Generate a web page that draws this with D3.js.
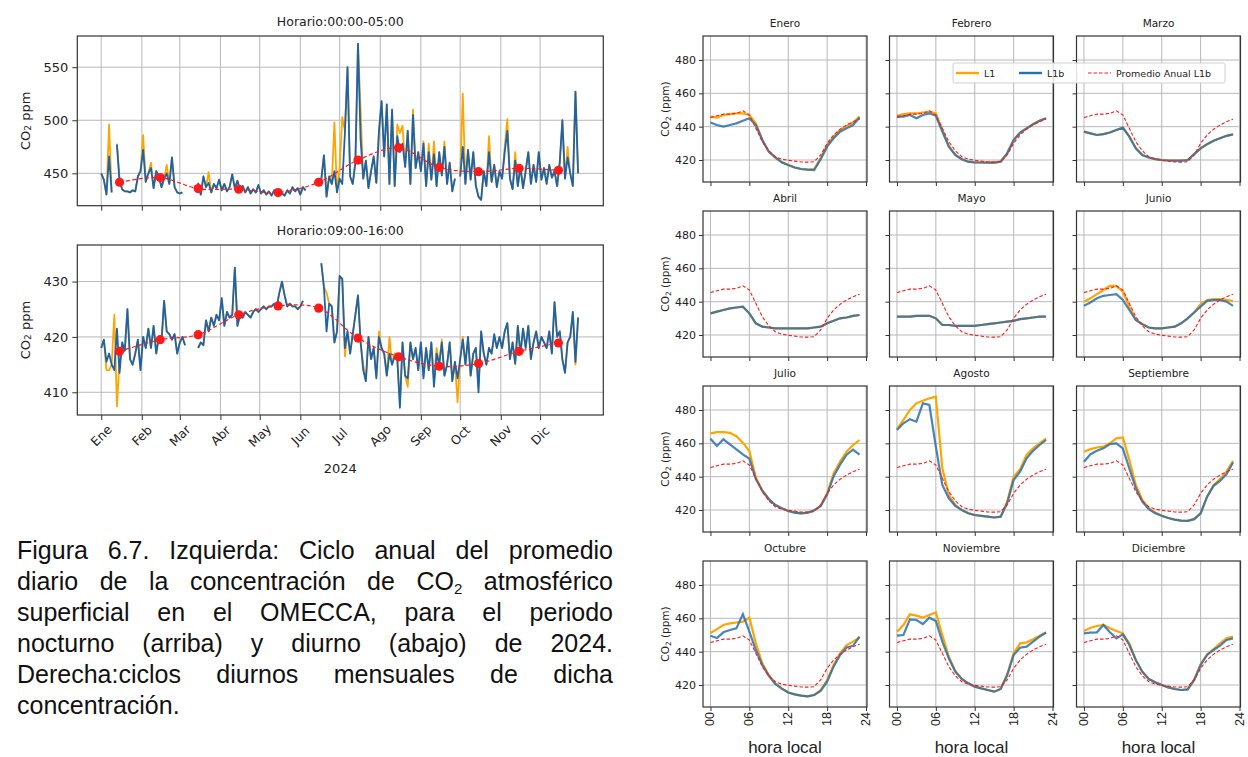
<!DOCTYPE html>
<html lang="es">
<head>
<meta charset="utf-8">
<title>CO2 atmosférico OMECCA 2024</title>
<script src="https://cdn.jsdelivr.net/npm/d3@7"></script>
<style>
  html, body { margin: 0; padding: 0; background: #fff; }
  body { position: relative; width: 1248px; height: 757px; overflow: hidden; }
  svg { display: block; }
  #caption {
    position: absolute; left: 17px; top: 535px; width: 596px;
    font-family: "Liberation Sans", Arial, sans-serif; font-size: 25px;
    line-height: 31px; color: #111;
  }
  #caption .ln { text-align: justify; text-align-last: justify; white-space: nowrap; }
  #caption .ln.last { text-align: left; text-align-last: left; }
  #caption sub { font-size: 0.6em; line-height: 0; vertical-align: -0.25em; }
</style>
</head>
<body>
<svg id="fig" width="1248" height="757"></svg>
<div id="caption">
  <div class="ln">Figura 6.7. Izquierda: Ciclo anual del promedio</div>
  <div class="ln">diario de la concentración de CO<sub>2</sub> atmosférico</div>
  <div class="ln">superficial en el OMECCA, para el periodo</div>
  <div class="ln">nocturno (arriba) y diurno (abajo) de 2024.</div>
  <div class="ln">Derecha:ciclos diurnos mensuales de dicha</div>
  <div class="ln last">concentración.</div>
</div>
<script>
// ---------- DATOS: promedio diario (un valor cada 2 días desde el 1 ene 2024) ----------
const monthLabels = ['Ene', 'Feb', 'Mar', 'Abr', 'May', 'Jun', 'Jul', 'Ago', 'Sep', 'Oct', 'Nov', 'Dic'];

// Horario 00:00-05:00
const nightL1b = [
  450, 444, 430, 466, 432, null, 477, 442, 435, 433, 433, 432, 434, 433, 447, 452,   // ene
  472, 442, 450, 455, 436, 452, 447, 437, 445, 450, 440, 465, 437, 432,             // feb
  431, 432, null, null, null, null, null, 441, 430, 447, 437, 441, 432, 440, 436, 444, // mar
  434, 440, 433, 437, 449, 436, 443, 434, 438, 432, 437, 431, 435, 432, 439,        // abr
  431, 434, 430, 433, 429, 434, 430, 433, 431, 429, 434, 431, 437, 433, 436,        // may
  430, 437, 434, null, null, null, null, null, 444, 467, 428, 447, 440, 452, 432,   // jun
  445, 440, 488, 550, 447, 440, 460, 572, 482, 445, 462, 436, 452, 466, 441, 489,   // jul
  518, 466, 515, 440, 510, 438, 485, 470, 478, 456, 490, 440, 505, 455, 470,        // ago
  452, 478, 438, 470, 444, 468, 438, 470, 448, 475, 440, 460, 433, 445, null,       // sep
  447, 475, 440, 472, 444, 470, 438, 428, 425, 452, 438, 470, 442, 458, 437, 452,   // oct
  445, 470, 490, 445, 435, 462, 438, 456, 436, 452, 470, 440, 458, 442, 470,        // nov
  444, 455, 440, 458, 446, 452, 438, 460, 500, 445, 465, 450, 438, 527, 450         // dic
];
const nightL1 = [
  450, 444, 430, 496, 432, null, 478, 446, 435, 433, 433, 432, 434, 433, 447, 452,
  486, 442, 450, 460, 436, 452, 447, 437, 445, 458, 440, 465, 437, 432,
  431, 432, null, null, null, null, null, 441, 430, 447, 437, 451, 432, 440, 436, 444,
  434, 440, 433, 437, 449, 436, 443, 434, 438, 432, 437, 431, 435, 432, 439,
  431, 434, 430, 433, 429, 434, 430, 433, 431, 429, 434, 431, 437, 433, 436,
  430, 437, 434, null, null, null, null, null, 444, 467, 428, 447, 440, 498, 432,
  455, 503, 490, 550, 447, 440, 460, 572, 510, 445, 462, 436, 452, 466, 441, 490,
  518, 466, 515, 440, 510, 438, 496, 488, 495, 456, 490, 440, 510, 455, 470,
  452, 480, 438, 478, 444, 480, 438, 470, 448, 480, 440, 460, 433, 445, null,
  447, 525, 440, 472, 444, 470, 438, 428, 425, 452, 438, 485, 442, 458, 437, 452,
  445, 475, 501, 445, 435, 470, 438, 456, 436, 452, 470, 440, 458, 442, 470,
  444, 455, 440, 458, 446, 452, 438, 460, 500, 445, 475, 450, 438, 527, 450
];
const nightMonthly = [441.6, 446, 435.6, 435, 431.9, 441.6, 462.5, 474, 455.6, 451.6, 454.7, 452.8];

// Horario 09:00-16:00
const dayL1b = [
  418, 419.5, 415.5, 417, 415, 414, 421.5, 413.5, 419, 417.5, 425, 416, 415, 417, 419.5, 414,
  420, 418, 421.5, 418, 422, 417, 420, 419, 426.5, 421, 420.5, 419.5, 420.5, 417,
  419, 420, 418.5, null, null, null, null, 418, 419, 418.5, 423, 421, 423.5, 422, 424, 423,
  427, 422, 424.5, 423.5, 424, 432.5, 422, 424, 423.5, 424.5, 424, 423.5, 424.5, 425, 424.5,
  425, 425.5, 425, 425.5, 425.5, 426, 425.5, 428, 430, 427.5, 425.5, 426, 425.5, 425.5, 425,
  425.5, 426.5, null, null, null, null, null, null, 433.3, 429, 421, 426, 425.5, 419, 421,
  431, 430.5, 418, 421, 417, 420.5, 424, 427.5, 419, 414, 412, 420, 416, 418, 412.5, 420,
  418, 417, 413, 417, 415, 416.5, 416, 407.2, 419, 413, 412.5, 419, 416, 418, 414,
  419, 412.5, 418, 414, 419, 411, 417, 415, 419, 413, 415, 419, 412, 415.5, 412.5,
  416, 419.5, 415, 420, 413, 417, 418, 410, 421, 417, 415, 418, 417, 420.5, 418, 420,
  418, 421, 422.5, 416, 419, 415.2, 422, 417, 421.5, 418, 422, 416, 419, 421, 418,
  420, 419, 418, 421, 417, 426.3, 420, 421, 416, 413.5, 419, 420, 424.5, 415.5, 423.5
];
const dayL1 = [
  418, 419.5, 414, 414, 415, 424, 407.5, 416, 419, 417.5, 425, 416, 415, 417, 419.5, 414,
  420, 418, 421.5, 418, 422, 417, 420, 419, 426.5, 421, 420.5, 419.5, 420.5, 417,
  419, 420, 418.5, null, null, null, null, 418, 419, 418.5, 423, 421, 423.5, 422, 424, 423,
  427, 422, 424.5, 423.5, 424, 432.5, 422, 424, 423.5, 424.5, 424, 423.5, 424.5, 425, 424.5,
  425, 425.5, 425, 425.5, 425.5, 426, 425.5, 428, 430, 427.5, 425.5, 426, 425.5, 425.5, 425,
  425.5, 426.5, null, null, null, null, null, null, 433.3, 429, 428, 426, 425.5, 419, 421,
  431, 430.5, 416.5, 421, 417, 420.5, 424, 427.5, 419, 415, 412, 420, 416, 418, 413, 421,
  418, 417, 413, 420, 415, 417, 416, 408, 419, 413, 411, 419, 416, 418, 414,
  419, 413, 418, 414, 419, 412, 418, 415, 419.5, 413, 415, 419, 412, 415.5, 408.2,
  416, 420, 415, 420, 413, 417, 418, 411, 421, 417, 415, 418, 417, 420, 418, 420,
  418, 421, 422.5, 416, 419, 415, 422, 417, 421.5, 418, 422, 416, 419, 421, 418,
  420, 419, 418, 421, 417, 426.3, 420, 421, 416, 413.5, 419, 420, 424.5, 415, 423.5
];
const dayMonthly = [417.4, 419.5, 420.4, 424, 425.6, 425.2, 419.8, 416.4, 414.7, 415.2, 417.4, 418.9];

// ---------- DATOS: ciclos diurnos mensuales (hora local 00..23) ----------
const monthNames = ['Enero', 'Febrero', 'Marzo', 'Abril', 'Mayo', 'Junio',
  'Julio', 'Agosto', 'Septiembre', 'Octubre', 'Noviembre', 'Diciembre'];
const hours = [0, 1, 2, 3, 4, 5, 6, 7, 8, 9, 10, 11, 12, 13, 14, 15, 16, 17, 18, 19, 20, 21, 22, 23];
const hourTicks = [0, 6, 12, 18, 24];

const annualL1b = [445.5, 446.5, 447.5, 447.5, 448, 449.5, 447, 439, 431, 425.5, 422, 420.5,
  419.8, 419.3, 418.8, 418.7, 419, 423, 430, 435, 438.5, 441, 443, 444.5];

const cycleL1b = [
  [442.5, 441, 440, 441, 442, 443.5, 445, 441, 432, 425, 421.5, 418.6, 417, 415.5, 414.6, 414.2, 414, 420.5, 428, 433, 437, 439, 441, 445.5],
  [446, 446, 447, 445, 447, 448, 446.5, 437, 428, 423, 420.5, 419, 418.5, 418.5, 418.4, 418.4, 419, 424, 432, 436.5, 439, 441.5, 443.5, 445],
  [437, 436, 435, 435.5, 436.5, 438, 439.4, 434, 427, 423, 421.5, 420.5, 420, 419.7, 419.6, 419.6, 420, 423.5, 427, 429.5, 431.5, 433, 434.5, 435.4],
  [433, 434, 435, 436, 436.5, 437, 433, 427, 425, 424.5, 424, 424, 424, 424, 424, 424, 424.5, 425, 427, 428.5, 430, 430.5, 431.5, 432],
  [431, 431, 431, 431.5, 431.5, 431.5, 430, 426, 426, 425.5, 425.5, 425.5, 425.5, 426, 426.5, 427, 427.5, 428, 428.5, 429.5, 430, 430.5, 431, 431],
  [437.5, 439.5, 442, 443.5, 444, 444.5, 441, 435, 429, 426.5, 424.5, 424, 424, 424.5, 425, 427, 430, 433.5, 437, 440.5, 441, 441, 440, 437.5],
  [462.8, 458.4, 462.4, 459.4, 456.4, 453.4, 450.8, 438.6, 431.6, 426.6, 423, 421, 419.4, 418.4, 418, 418.4, 419.8, 422.4, 429.3, 440.2, 447.2, 453.2, 456.2, 453.2],
  [468, 472, 474.5, 473, 484, 483, 458, 435, 427, 422.5, 420, 418, 417, 416.5, 416, 415.5, 416, 424, 438, 443, 451, 455.5, 459, 462],
  [449, 453.5, 455.5, 457, 459.5, 460, 457, 445, 433, 425, 420.5, 418, 416.5, 415.2, 414.2, 413.6, 413.5, 414.5, 418, 428, 434.5, 437.5, 441.5, 448.5],
  [449.6, 448.2, 451.6, 453, 454, 462.5, 452, 441, 432, 425.5, 420.6, 417.8, 415.5, 414.4, 413.6, 413.2, 414, 416.5, 422, 431, 438, 442.5, 443.5, 449],
  [449.6, 450, 459.4, 459, 456.6, 460.4, 458.4, 446, 436, 428, 423.6, 421, 419, 418, 417, 416, 417.6, 426, 438, 442.4, 443, 446, 449, 451.5],
  [451, 451.4, 451.6, 456, 451.6, 448, 450.4, 444, 435, 428, 423.6, 421.6, 420, 418.6, 417.6, 417, 417.4, 423, 432, 438, 441, 443.6, 447, 448]
];
const cycleL1 = [
  [446, 445.5, 447, 447.5, 448, 448, 447, 442, 432, 425, 421.5, 418.6, 417, 415.5, 414.6, 414.2, 414.5, 421, 429, 434, 438, 440.5, 442.5, 446],
  [446.5, 447.5, 448, 448, 448.5, 449, 448, 438, 428.5, 423, 420.5, 419, 418.5, 418.5, 418.4, 418.4, 419, 424, 432, 436.5, 439, 441.5, 443.5, 445],
  [437, 436, 435, 435.5, 436.5, 438, 439.4, 434, 427, 423, 421.5, 420.5, 420, 419.7, 419.6, 419.6, 420, 423.5, 427, 429.5, 431.5, 433, 434.5, 435.4],
  [433, 434, 435, 436, 436.5, 437, 433, 427, 425, 424.5, 424, 424, 424, 424, 424, 424, 424.5, 425, 427, 428.5, 430, 430.5, 431.5, 432],
  [431, 431, 431, 431.5, 431.5, 431.5, 430, 426, 426, 425.5, 425.5, 425.5, 425.5, 426, 426.5, 427, 427.5, 428, 428.5, 429.5, 430, 430.5, 431, 431],
  [440, 442, 444.5, 447, 449.5, 449.5, 446, 437, 429, 426.5, 424.5, 424, 424, 424.5, 425, 427, 430, 433.5, 438.5, 441, 441.5, 441.5, 441, 440.5],
  [466, 466.7, 466.7, 466.3, 464.3, 460.4, 455.4, 439.5, 431.6, 426.6, 423, 421, 419.4, 418.4, 418, 418.4, 419.8, 422.4, 430, 442, 449, 455, 459, 462],
  [468.5, 474, 480, 484, 485.5, 487, 488, 445, 429, 423, 420, 418, 417, 416.5, 416, 415.5, 416, 425, 440, 444.5, 453, 457, 460, 463],
  [455, 456.5, 457.5, 458, 460, 463, 463.5, 450, 435, 426, 421, 418.5, 416.5, 415.2, 414.2, 413.6, 413.5, 414.5, 418, 428, 435, 438.5, 443, 449.5],
  [451.2, 453.5, 456, 457, 457.5, 458, 460.5, 445, 433, 426, 421, 418, 415.5, 414.4, 413.6, 413.2, 414, 417, 423, 432, 439, 444, 446, 448.5],
  [452, 456, 462.4, 461.6, 460.4, 462, 463.5, 450, 437, 428.5, 423.6, 421, 419, 418, 417, 416, 417.6, 426, 439, 445, 445.6, 447.5, 449.5, 451.5],
  [452.4, 454.4, 455.4, 456, 454, 452.4, 451, 445, 435, 428, 423.6, 421.6, 420, 418.6, 417.6, 417, 417.4, 423, 432.4, 438.5, 441.6, 445, 448, 449]
];

// ---------- estilos ----------
const colL1 = '#ffa500';
const colL1b = '#1b63ad';
const colL1bR = '#2a70ae';
const colRed = '#ff1a1a';
const colGrid = '#b8b8b8';
const colFrame = '#333';
const fontMpl = '"DejaVu Sans", sans-serif';
const fontArial = '"Liberation Sans", Arial, sans-serif';

const svg = d3.select('#fig');

// Fechas de las muestras (cada 2 días)
const day0 = new Date(2024, 0, 1);
const sampleDates = nightL1b.map((_, i) => d3.timeDay.offset(day0, 2 * i));
const monthStarts = d3.timeMonths(day0, new Date(2025, 0, 1));
const midMonths = monthStarts.map(d => new Date(d.getFullYear(), d.getMonth(), 15));
const xStart = new Date(day0.getTime() - 18.25 * 864e5);
const xEnd = new Date(new Date(2024, 11, 31).getTime() + 18.25 * 864e5);

function styleAxis(sel, size, font) {
  sel.select('.domain').remove();
  sel.selectAll('.tick line').attr('stroke', colFrame).attr('stroke-width', 1);
  sel.selectAll('.tick text').attr('fill', '#222').attr('font-size', size).attr('font-family', font || fontMpl);
}

function co2Label(g, cx, cy, size, suffix) {
  const t = g.append('text')
    .attr('transform', `translate(${cx},${cy}) rotate(-90)`)
    .attr('text-anchor', 'middle').attr('dominant-baseline', 'central')
    .attr('font-family', fontMpl).attr('font-size', size).attr('fill', '#222');
  t.append('tspan').text('CO');
  t.append('tspan').attr('font-size', size * 0.7).attr('dy', size * 0.25).text('2');
  t.append('tspan').attr('dy', -size * 0.25).text(suffix);
}

// ---------- panel de serie anual ----------
function drawSeriesPanel(box, yDomain, yTicks, title, l1, l1b, monthly, withLabels, id) {
  const g = svg.append('g');
  const x = d3.scaleTime().domain([xStart, xEnd]).range([box.x0, box.x1]);
  const y = d3.scaleLinear().domain(yDomain).range([box.y1, box.y0]);

  g.append('clipPath').attr('id', id).append('rect')
    .attr('x', box.x0).attr('y', box.y0).attr('width', box.x1 - box.x0).attr('height', box.y1 - box.y0);

  // rejilla
  g.selectAll('line.vg').data(monthStarts).join('line')
    .attr('x1', d => x(d)).attr('x2', d => x(d)).attr('y1', box.y0).attr('y2', box.y1)
    .attr('stroke', colGrid).attr('stroke-width', 1);
  g.selectAll('line.hg').data(yTicks).join('line')
    .attr('x1', box.x0).attr('x2', box.x1).attr('y1', d => y(d)).attr('y2', d => y(d))
    .attr('stroke', colGrid).attr('stroke-width', 1);

  const line = d3.line()
    .defined(d => d.v != null)
    .x(d => x(d.date)).y(d => y(d.v));
  const pts = arr => arr.map((v, i) => ({ date: sampleDates[i], v }));

  const plot = g.append('g').attr('clip-path', `url(#${id})`);
  plot.append('path').datum(pts(l1)).attr('d', line)
    .attr('fill', 'none').attr('stroke', colL1).attr('stroke-width', 1.8).attr('stroke-linejoin', 'round');
  plot.append('path').datum(pts(l1b)).attr('d', line)
    .attr('fill', 'none').attr('stroke', colL1b).attr('stroke-width', 1.8).attr('stroke-linejoin', 'round');

  // promedio mensual
  const mPts = monthly.map((v, i) => ({ date: midMonths[i], v }));
  plot.append('path').datum(mPts)
    .attr('d', d3.line().curve(d3.curveCatmullRom).x(d => x(d.date)).y(d => y(d.v)))
    .attr('fill', 'none').attr('stroke', colRed).attr('stroke-width', 1.2).attr('stroke-dasharray', '4,2.5');
  plot.selectAll('circle').data(mPts).join('circle')
    .attr('cx', d => x(d.date)).attr('cy', d => y(d.v)).attr('r', 4.6).attr('fill', colRed);

  // marco y ejes
  g.append('rect').attr('x', box.x0).attr('y', box.y0)
    .attr('width', box.x1 - box.x0).attr('height', box.y1 - box.y0)
    .attr('fill', 'none').attr('stroke', colFrame).attr('stroke-width', 1.2);
  g.append('g').attr('transform', `translate(${box.x0},0)`)
    .call(d3.axisLeft(y).tickValues(yTicks).tickSize(5).tickPadding(4).tickFormat(d3.format('d')))
    .call(s => styleAxis(s, 13));
  g.append('g').attr('transform', `translate(0,${box.y1})`)
    .call(d3.axisBottom(x).tickValues(monthStarts).tickSize(5).tickFormat(''))
    .call(s => styleAxis(s, 13));

  g.append('text').attr('x', (box.x0 + box.x1) / 2).attr('y', box.y0 - 10)
    .attr('text-anchor', 'middle').attr('font-family', fontMpl).attr('font-size', 12.5)
    .attr('fill', '#222').text(title);
  co2Label(g, 25, (box.y0 + box.y1) / 2, 13, ' ppm');

  if (withLabels) {
    g.selectAll('text.ml').data(monthStarts).join('text')
      .attr('class', 'ml')
      .attr('transform', d => `translate(${x(d)},${box.y1 + 20.5}) rotate(-45)`)
      .attr('text-anchor', 'middle').attr('dominant-baseline', 'central')
      .attr('font-family', fontMpl).attr('font-size', 12.5).attr('fill', '#222')
      .text((d, i) => monthLabels[i]);
    g.append('text').attr('x', (box.x0 + box.x1) / 2).attr('y', 473)
      .attr('text-anchor', 'middle').attr('font-family', fontMpl).attr('font-size', 13)
      .attr('fill', '#222').text('2024');
  }
}

drawSeriesPanel({ x0: 77.3, x1: 603.3, y0: 36, y1: 205.7 }, [419.5, 579.4], [450, 500, 550],
  'Horario:00:00-05:00', nightL1, nightL1b, nightMonthly, false, 'clipNight');
drawSeriesPanel({ x0: 77.3, x1: 603.3, y0: 245, y1: 415 }, [405.9, 436.6], [410, 420, 430],
  'Horario:09:00-16:00', dayL1, dayL1b, dayMonthly, true, 'clipDay');

// ---------- ciclos diurnos mensuales ----------
const colX = [703, 889.5, 1076.5];
const rowY = [36, 211, 386, 561];
const panelW = 164, panelH = 146;
const yCycleTicks = [420, 440, 460, 480];

function drawCycle(k) {
  const col = k % 3, row = Math.floor(k / 3);
  const x0 = colX[col], y0 = rowY[row];
  const x = d3.scaleLinear().domain([-1.15, 24.15]).range([x0, x0 + panelW]);
  const y = d3.scaleLinear().domain([406.8, 494.4]).range([y0 + panelH, y0]);
  const g = svg.append('g');

  g.selectAll('line.vg').data(hourTicks).join('line')
    .attr('x1', d => x(d)).attr('x2', d => x(d)).attr('y1', y0).attr('y2', y0 + panelH)
    .attr('stroke', colGrid).attr('stroke-width', 1);
  g.selectAll('line.hg').data(yCycleTicks).join('line')
    .attr('x1', x0).attr('x2', x0 + panelW).attr('y1', d => y(d)).attr('y2', d => y(d))
    .attr('stroke', colGrid).attr('stroke-width', 1);

  const line = d3.line().x((d, i) => x(hours[i])).y(d => y(d));
  g.append('path').attr('d', line(cycleL1[k]))
    .attr('fill', 'none').attr('stroke', colL1).attr('stroke-width', 2.2);
  g.append('path').attr('d', line(cycleL1b[k]))
    .attr('fill', 'none').attr('stroke', colL1bR).attr('stroke-width', 2.2).attr('stroke-opacity', 0.85);
  g.append('path').attr('d', line(annualL1b))
    .attr('fill', 'none').attr('stroke', colRed).attr('stroke-width', 1.1).attr('stroke-dasharray', '3.5,2');

  g.append('rect').attr('x', x0).attr('y', y0).attr('width', panelW).attr('height', panelH)
    .attr('fill', 'none').attr('stroke', colFrame).attr('stroke-width', 1.2);

  g.append('g').attr('transform', `translate(${x0},0)`)
    .call(d3.axisLeft(y).tickValues(yCycleTicks).tickSize(4).tickPadding(3)
      .tickFormat(col === 0 ? d3.format('d') : ''))
    .call(s => styleAxis(s, 11));
  g.append('g').attr('transform', `translate(0,${y0 + panelH})`)
    .call(d3.axisBottom(x).tickValues(hourTicks).tickSize(4).tickFormat(''))
    .call(s => styleAxis(s, 11));

  g.append('text').attr('x', x0 + panelW / 2).attr('y', y0 - 9)
    .attr('text-anchor', 'middle').attr('font-family', fontMpl).attr('font-size', 10.5)
    .attr('fill', '#222').text(monthNames[k]);

  if (col === 0) co2Label(g, 665, y0 + panelH / 2, 10.5, ' (ppm)');

  if (row === 3) {
    g.selectAll('text.hl').data(hourTicks).join('text')
      .attr('class', 'hl')
      .attr('transform', d => `translate(${x(d)},${y0 + panelH + 12}) rotate(-90)`)
      .attr('text-anchor', 'middle').attr('dominant-baseline', 'central')
      .attr('font-family', fontArial).attr('font-size', 12.5).attr('fill', '#222')
      .text(d => String(d).padStart(2, '0'));
    g.append('text').attr('x', x0 + panelW / 2).attr('y', 753)
      .attr('text-anchor', 'middle').attr('font-family', fontArial).attr('font-size', 17)
      .attr('fill', '#222').text('hora local');
  }
}

monthNames.forEach((_, k) => drawCycle(k));

// ---------- leyenda ----------
const legend = svg.append('g').attr('font-family', fontMpl).attr('font-size', 9.5).attr('fill', '#222');
legend.append('rect').attr('x', 953).attr('y', 63).attr('width', 272).attr('height', 20).attr('rx', 2)
  .attr('fill', '#fff').attr('fill-opacity', 0.85).attr('stroke', '#d0d0d0');
const legendItems = [
  { label: 'L1', color: colL1, dash: null, w: 2.4, x: 956 },
  { label: 'L1b', color: colL1bR, dash: null, w: 2.4, x: 1019 },
  { label: 'Promedio Anual L1b', color: colRed, dash: '3.5,2', w: 1.1, x: 1088 }
];
legendItems.forEach(it => {
  legend.append('line').attr('x1', it.x).attr('x2', it.x + 23).attr('y1', 73).attr('y2', 73)
    .attr('stroke', it.color).attr('stroke-width', it.w).attr('stroke-dasharray', it.dash);
  legend.append('text').attr('x', it.x + 28).attr('y', 73).attr('dominant-baseline', 'central').text(it.label);
});
</script>
</body>
</html>
